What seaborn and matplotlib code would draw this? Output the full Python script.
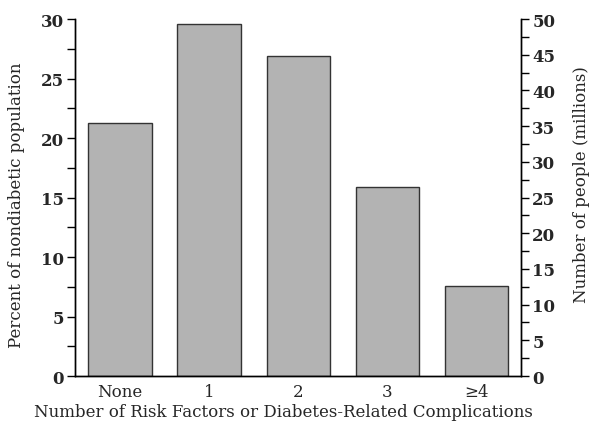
import numpy as np
import pandas as pd
import matplotlib
matplotlib.use('Agg')
import matplotlib.pyplot as plt
from matplotlib.ticker import MultipleLocator
import seaborn as sns

# Data
categories = ['None', '1', '2', '3', '\u22654']
percent = [21.3, 29.6, 26.9, 15.9, 7.6]

df = pd.DataFrame({'group': categories, 'percent': percent})

sns.set_style('ticks')
plt.rcParams['font.family'] = ['DejaVu Serif']

fig = plt.figure(figsize=(5.93, 4.27), dpi=100)
ax = fig.add_axes([0.127, 0.117, 0.752, 0.836])

sns.barplot(x='group', y='percent', data=df, ax=ax, color='#b3b3b3',
            saturation=1, width=0.71, edgecolor='#333333', linewidth=1)

ax.set_xlim(-0.5, 4.5)
ax.set_ylim(0, 30)
ax.yaxis.set_major_locator(MultipleLocator(5))
ax.yaxis.set_minor_locator(MultipleLocator(2.5))
ax.tick_params(axis='y', which='both', direction='out', length=6, width=1,
               color='black', labelsize=12, pad=2)
ax.tick_params(axis='x', length=0, labelsize=12, pad=5)
for lab in ax.get_yticklabels():
    lab.set_fontweight('bold')
ax.set_xlabel('Number of Risk Factors or Diabetes-Related Complications', fontsize=12)
ax.xaxis.set_label_coords(0.466, -0.075)
ax.set_ylabel('Percent of nondiabetic population', fontsize=12)
ax.yaxis.set_label_coords(-0.113, 0.48)

# Right axis in millions of people
ax2 = ax.twinx()
ax2.set_ylim(0, 50)
ax2.yaxis.set_major_locator(MultipleLocator(5))
ax2.yaxis.set_minor_locator(MultipleLocator(2.5))
ax2.tick_params(axis='y', which='both', direction='out', length=6, width=1,
                color='black', labelsize=12, pad=2)
for lab in ax2.get_yticklabels():
    lab.set_fontweight('bold')
ax2.set_ylabel('Number of people (millions)', fontsize=12)
ax2.yaxis.set_label_coords(1.117, 0.54)

for a in (ax, ax2):
    a.spines['top'].set_visible(False)
    for s in ('left', 'right', 'bottom'):
        a.spines[s].set_color('black')
        a.spines[s].set_linewidth(1)

plt.savefig('out.png', dpi=100)
